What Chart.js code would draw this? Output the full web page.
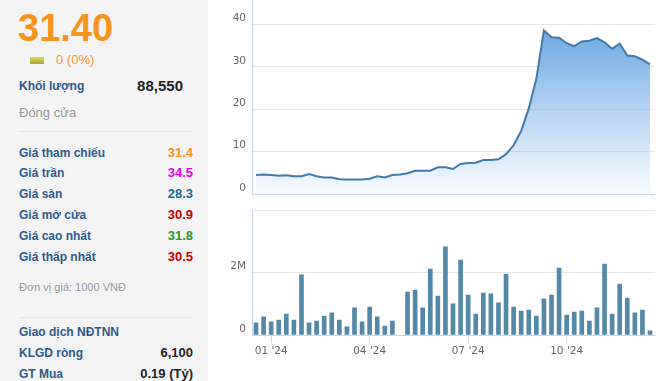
<!DOCTYPE html>
<html><head><meta charset="utf-8">
<script src="https://cdn.jsdelivr.net/npm/chart.js@4"></script>
<style>
html,body{margin:0;padding:0;width:667px;height:381px;overflow:hidden;background:#fff;font-family:"Liberation Sans",Arial,sans-serif;}
#panel{position:absolute;left:0;top:0;width:208px;height:381px;background:#f4f4f4;}
.t{position:absolute;white-space:nowrap;line-height:16px;}
.lbl{left:19px;font-size:12px;font-weight:bold;color:#2c5a8c;}
.val{right:15px;font-size:13px;font-weight:bold;text-align:right;}
.sep{position:absolute;left:19px;width:174px;height:1px;background:#e6e6e6;}
#cTopWrap{position:absolute;left:210px;top:0;width:457px;height:200px;}
#cBotWrap{position:absolute;left:210px;top:200px;width:457px;height:181px;}
</style>
</head><body>
<div id="panel">
  <div class="t" style="left:18px;top:9px;font-size:38px;line-height:38px;font-weight:bold;color:#f7941d;">31.40</div>
  <div style="position:absolute;left:30px;top:57px;width:14px;height:7px;background:linear-gradient(#d8d85a,#a8a832);"></div>
  <div class="t" style="left:56px;top:52px;font-size:13px;color:#f7941d;">0 (0%)</div>
  <div class="t lbl" style="top:78px;">Khối lượng</div>
  <div class="t" style="right:25px;top:78px;font-size:15px;font-weight:bold;color:#222;">88,550</div>
  <div class="t" style="left:19px;top:105px;font-size:13px;color:#999;">Đóng cửa</div>
  <div class="sep" style="top:131px;"></div>
  <div class="t lbl" style="top:145px;">Giá tham chiếu</div><div class="t val" style="top:145px;color:#f7941d;">31.4</div>
  <div class="t lbl" style="top:165px;">Giá trần</div><div class="t val" style="top:165px;color:#e600e6;">34.5</div>
  <div class="t lbl" style="top:186px;">Giá sàn</div><div class="t val" style="top:186px;color:#1c6a8c;">28.3</div>
  <div class="t lbl" style="top:207px;">Giá mở cửa</div><div class="t val" style="top:207px;color:#c40000;">30.9</div>
  <div class="t lbl" style="top:228px;">Giá cao nhất</div><div class="t val" style="top:228px;color:#2a9a2a;">31.8</div>
  <div class="t lbl" style="top:249px;">Giá thấp nhất</div><div class="t val" style="top:249px;color:#c40000;">30.5</div>
  <div class="t" style="left:19px;top:279px;font-size:11px;color:#999;">Đơn vị giá: 1000 VNĐ</div>
  <div class="sep" style="top:317px;"></div>
  <div class="t lbl" style="top:324px;">Giao dịch NĐTNN</div>
  <div class="t lbl" style="top:345px;">KLGD ròng</div><div class="t val" style="top:345px;color:#222;">6,100</div>
  <div class="t lbl" style="top:366px;">GT Mua</div><div class="t val" style="top:366px;color:#222;">0.19 (Tỷ)</div>
</div>
<div id="cTopWrap"><canvas id="cTop" width="457" height="200"></canvas></div>
<div id="cBotWrap"><canvas id="cBot" width="457" height="181"></canvas></div>
<script>
// Weekly closing prices (thousand VND), week index 0 = mid Dec 2023
const prices = [4.5,4.6,4.5,4.3,4.4,4.2,4.2,4.7,4.2,3.9,3.9,3.5,3.4,3.4,3.4,3.6,4.2,3.9,4.5,4.6,
  4.9,5.5,5.5,5.5,6.3,6.3,5.9,7.1,7.3,7.4,8.0,8.0,8.2,9.4,11.5,14.9,20.2,27.2,38.6,37.0,
  36.9,35.6,34.9,36.0,36.2,36.8,35.8,34.3,35.5,32.7,32.5,31.7,30.6];
// Weekly volume (millions of shares); null = no bar
const volumes = [0.39,0.58,0.42,0.48,0.67,0.48,1.93,0.39,0.45,0.61,0.71,0.48,0.26,0.87,0.42,0.90,0.58,0.29,0.45,null,
  1.38,1.44,0.87,2.12,1.25,2.83,1.00,2.41,1.28,0.67,1.35,1.32,1.03,1.96,0.90,0.77,0.80,0.61,1.16,1.28,
  2.15,0.64,0.74,0.77,0.45,0.87,2.28,0.67,1.64,1.19,0.71,0.80,0.13];
const priceTicks = [0,10,20,30,40];
const volumeTicks = [0,2,4];
const volumeTickLabels = ['0','2M',''];
const xTickPositions = [2,15,28,41];
const xTickLabels = ["01 '24","04 '24","07 '24","10 '24"];

const X_MIN = -0.53, X_MAX = 52.66;
const axisColor = '#ccd6eb', gridColor = '#e6e6e6';
const tickFont = {family:'DejaVu Sans', size:10.5};

new Chart(document.getElementById('cTop'), {
  type:'line',
  data:{datasets:[{
    data: prices.map((p,i)=>({x:i,y:p})),
    borderColor:'#3f7aa9', borderWidth:2, pointRadius:0, tension:0,
    fill:'origin',
    backgroundColor:(ctx)=>{
      const a = ctx.chart.chartArea;
      if(!a) return 'rgba(124,181,236,0.5)';
      const g = ctx.chart.ctx.createLinearGradient(0,a.top+30,0,a.bottom);
      g.addColorStop(0,'rgba(110,168,226,1)');
      g.addColorStop(1,'rgba(124,181,236,0.06)');
      return g;
    }
  }]},
  options:{
    responsive:false, animation:false, devicePixelRatio:1,
    layout:{padding:{left:0,right:12,top:0,bottom:6}},
    plugins:{legend:{display:false},tooltip:{enabled:false}},
    scales:{
      x:{type:'linear',min:X_MIN,max:X_MAX,display:false,offset:false},
      y:{min:0,max:45.8,
        afterBuildTicks:s=>{s.ticks=priceTicks.map(v=>({value:v}));},
        afterFit:s=>{s.width=42;s.paddingTop=0;s.paddingBottom=0;},
        grid:{color:c=>c.tick && c.tick.value===0?axisColor:gridColor,drawTicks:false},
        border:{display:true,color:axisColor},
        ticks:{padding:6,labelOffset:-6,color:'#666',font:tickFont}
      }
    }
  }
});

new Chart(document.getElementById('cBot'), {
  type:'line',
  data:{datasets:[{
    type:'bar',
    data: volumes.map((v,i)=>({x:i,y:v})),
    backgroundColor:'#5289a8', borderWidth:0, barThickness:4
  }]},
  options:{
    responsive:false, animation:false, devicePixelRatio:1,
    layout:{padding:{left:0,right:12,top:10.5,bottom:0}},
    plugins:{legend:{display:false},tooltip:{enabled:false}},
    scales:{
      x:{type:'linear',min:X_MIN,max:X_MAX,offset:false,
        afterBuildTicks:s=>{s.ticks=xTickPositions.map(v=>({value:v}));},
        afterFit:s=>{s.height=46;s.paddingLeft=0;s.paddingRight=0;},
        grid:{offset:false,drawOnChartArea:false,drawTicks:true,tickLength:8,color:axisColor},
        border:{display:true,color:axisColor},
        ticks:{autoSkip:false,maxRotation:0,padding:2,color:'#666',font:tickFont,
          callback:(v,i)=>xTickLabels[i]}
      },
      y:{min:0,max:4,
        afterBuildTicks:s=>{s.ticks=volumeTicks.map(v=>({value:v}));},
        afterFit:s=>{s.width=42;s.paddingTop=0;s.paddingBottom=0;},
        grid:{color:c=>c.tick && c.tick.value===0?axisColor:gridColor,drawTicks:false},
        border:{display:true,color:axisColor},
        ticks:{padding:6,labelOffset:-6,color:'#666',font:tickFont,
          callback:(v,i)=>volumeTickLabels[i]}
      }
    }
  }
});
</script>
</body></html>
